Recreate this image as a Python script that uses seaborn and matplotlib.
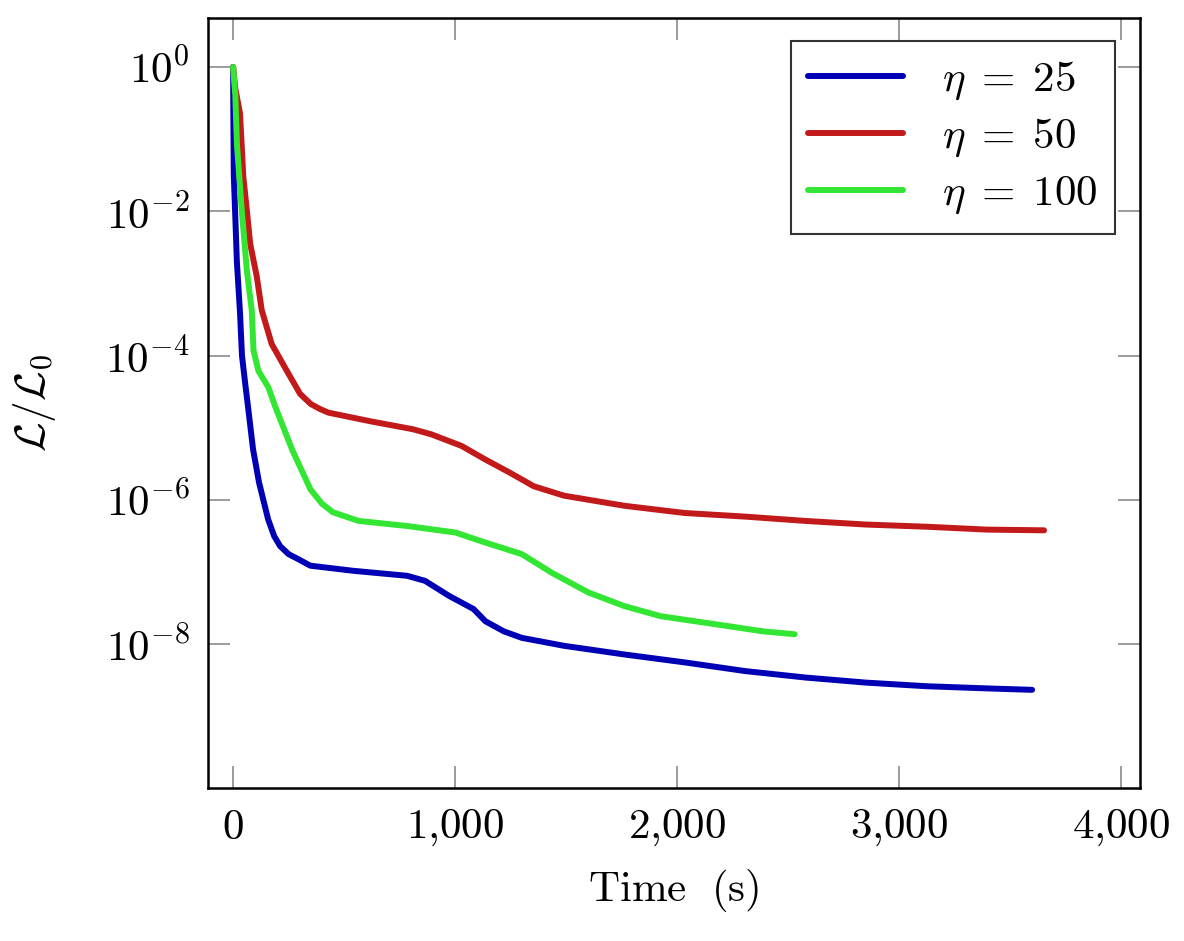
import numpy as np
import pandas as pd
import matplotlib
matplotlib.use("Agg")
import matplotlib.pyplot as plt
from matplotlib.ticker import FixedLocator, FuncFormatter, NullLocator
import seaborn as sns

sns.set_theme(style="white", rc={"text.color": "black", "axes.labelcolor": "black",
                                 "xtick.labelcolor": "black", "ytick.labelcolor": "black"})
plt.rcParams["mathtext.fontset"] = "cm"
plt.rcParams["font.family"] = ["DejaVu Serif"]

# -----------------------------
# data (log10 of L/L0)
# -----------------------------
t_25 = [0, 1, 3, 9, 17, 31, 40, 55, 63, 90, 117, 158, 185, 212, 250, 294, 348,
        539, 784, 865, 974, 1083, 1137, 1220, 1301, 1491, 1763, 2035, 2307, 2580,
        2852, 3124, 3396, 3600]
log_25 = [0, -0.6, -1.5, -2.0, -2.7, -3.4, -4.0, -4.4, -4.6, -5.3, -5.76, -6.27,
          -6.5, -6.64, -6.75, -6.82, -6.91, -6.98, -7.05, -7.12, -7.33, -7.51,
          -7.68, -7.82, -7.91, -8.02, -8.14, -8.25, -8.37, -8.46, -8.53, -8.58,
          -8.61, -8.63]

t_50 = [0, 10, 31, 46, 62, 77, 107, 129, 174, 242, 302, 350, 392, 430, 620, 811,
        893, 1029, 1137, 1246, 1355, 1491, 1763, 2035, 2307, 2580, 2852, 3124,
        3396, 3654]
log_50 = [0, -0.3, -0.64, -1.52, -1.99, -2.45, -2.91, -3.37, -3.84, -4.21, -4.53,
          -4.67, -4.74, -4.79, -4.91, -5.02, -5.09, -5.25, -5.44, -5.62, -5.81,
          -5.94, -6.08, -6.18, -6.23, -6.29, -6.34, -6.37, -6.41, -6.42]

t_100 = [0, 10, 17, 39, 62, 84, 92, 114, 159, 189, 267, 348, 400, 450, 566, 784,
         1001, 1137, 1301, 1437, 1600, 1763, 1927, 2171, 2389, 2530]
log_100 = [0, -0.4, -1.06, -1.99, -2.82, -3.37, -3.93, -4.21, -4.44, -4.7, -5.31,
           -5.85, -6.05, -6.17, -6.29, -6.36, -6.45, -6.59, -6.75, -7.01, -7.28,
           -7.47, -7.61, -7.72, -7.82, -7.86]

labels = [r"$\eta\;=\;25$", r"$\eta\;=\;50$", r"$\eta\;=\;100$"]
colors = ["#0000b4", "#c21a1a", "#33e633"]

frames = []
for t, lg, lab in zip([t_25, t_50, t_100], [log_25, log_50, log_100], labels):
    frames.append(pd.DataFrame({"Time": t, "Loss": 10.0 ** np.array(lg), "eta": lab}))
data = pd.concat(frames, ignore_index=True)

# -----------------------------
# plot
# -----------------------------
fig = plt.figure(figsize=(11.84, 9.41), dpi=100)
ax = fig.add_axes([0.1757, 0.1626, 0.7871, 0.8184])

sns.lineplot(data=data, x="Time", y="Loss", hue="eta", hue_order=labels,
             palette=colors, linewidth=4.3, sort=False, estimator=None, ax=ax)

ax.set_yscale("log")
ax.set_xlim(-113, 4086)
ax.set_ylim(10 ** -9.99, 10 ** 0.68)

ax.yaxis.set_major_locator(FixedLocator([1e0, 1e-2, 1e-4, 1e-6, 1e-8]))
ax.yaxis.set_minor_locator(NullLocator())
ax.yaxis.set_major_formatter(FuncFormatter(lambda v, p: r"$10^{%d}$" % round(np.log10(v))))
ax.xaxis.set_major_locator(FixedLocator([0, 1000, 2000, 3000, 4000]))
ax.xaxis.set_major_formatter(FuncFormatter(
    lambda v, p: r"$%s$" % f"{int(v):,}".replace(",", "{,}")))

ax.tick_params(axis="both", which="major", direction="in", length=16,
               width=1.1, color="#808080", labelsize=31, pad=13,
               top=True, right=True, bottom=True, left=True)

for s in ax.spines.values():
    s.set_color("black")
    s.set_linewidth(1.8)

ax.set_xlabel(r"$\mathrm{Time\ \ (s)}$", fontsize=31, labelpad=14)
ax.set_ylabel(r"$\mathcal{L}/\mathcal{L}_0$", fontsize=31, labelpad=34)

leg = ax.legend(loc="upper right", fontsize=31, frameon=True, fancybox=False,
                edgecolor="black", handlelength=2.2, borderpad=0.4,
                labelspacing=0.3, handletextpad=0.9, borderaxespad=0,
                bbox_to_anchor=(0.973, 0.970))
leg.get_frame().set_linewidth(1.5)

fig.savefig("out.png", dpi=100)
